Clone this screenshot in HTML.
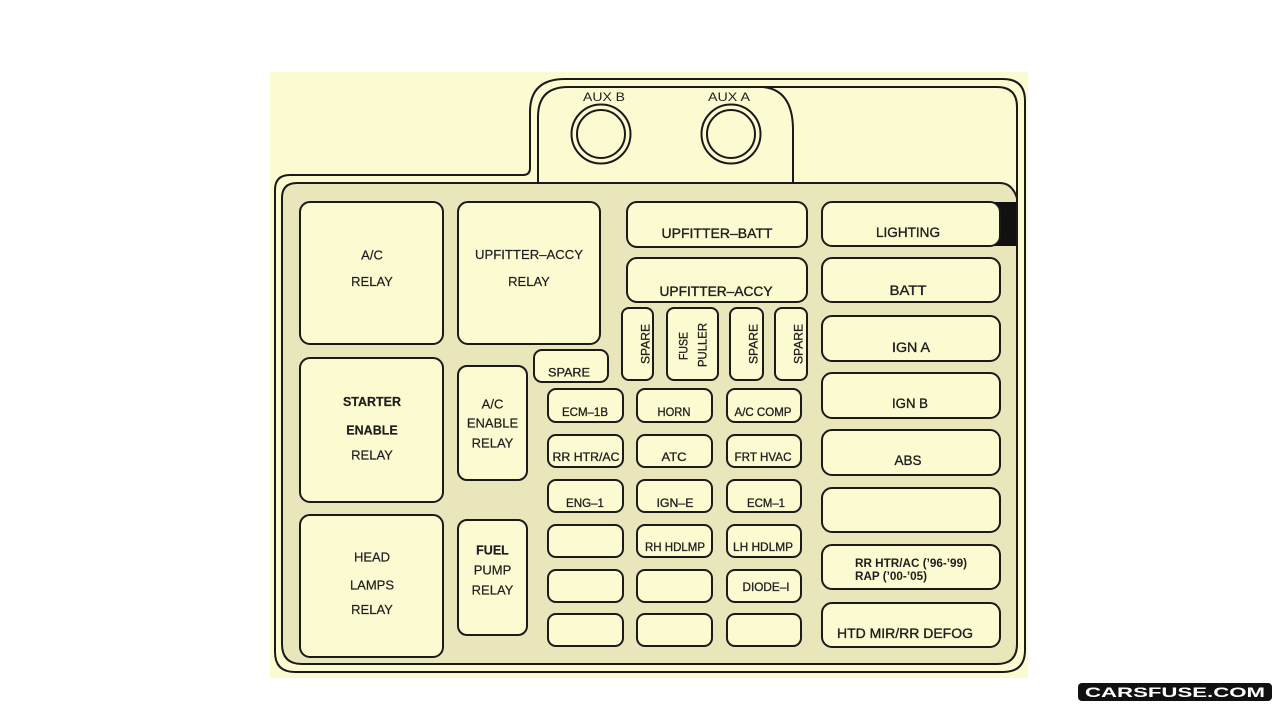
<!DOCTYPE html>
<html>
<head>
<meta charset="utf-8">
<style>
  html,body{margin:0;padding:0;background:#ffffff;}
  body{width:1280px;height:720px;overflow:hidden;}
  svg{display:block;}
  text{font-family:"Liberation Sans", Arial, sans-serif;fill:#1e1e1e;}
  .rl{font-size:13px;text-anchor:middle;stroke:#1e1e1e;stroke-width:0.2;}
  .sm{font-size:12px;text-anchor:middle;stroke:#1e1e1e;stroke-width:0.3;}
  .md{font-size:13.5px;text-anchor:middle;stroke:#1e1e1e;stroke-width:0.35;}
  .ln{fill:none;stroke:#1a1a1a;stroke-width:2;}
  .fz{fill:#fcfad0;stroke:#1a1a1a;stroke-width:2;}
</style>
</head>
<body>
<svg width="1280" height="720" viewBox="0 0 1280 720" xmlns="http://www.w3.org/2000/svg">
  <!-- yellow background -->
  <rect x="270" y="72" width="758" height="606" fill="#fcfad0"/>
  <!-- tan inner band -->
  <path d="M297 183 L1000 183 Q1012 183 1017 198 L1017 644 Q1017 664 997 664 L302 664 Q282 664 282 644 L282 198 Q282 183 297 183 Z" fill="#eae6bc"/>

  <!-- outer contour -->
  <path class="ln" d="M295 672 Q275 672 275 652 L275 190 Q275 175 290 175 L523 175 Q530 175 530 168 L530 112 Q530 79 565 79 L1003 79 Q1025 79 1025 101 L1025 650 Q1025 672 1003 672 Z"/>
  <!-- second contour -->
  <path class="ln" d="M538 183 L538 117 Q538 87 568 87 L997 87 Q1017 87 1017 107 L1017 644 Q1017 664 997 664 L302 664 Q282 664 282 644 L282 198 Q282 183 297 183 L1000 183 Q1012 183 1017 198"/>
  <!-- tab right side -->
  <path class="ln" d="M763 87 Q793 90 793 130 L793 183"/>

  <!-- AUX circles -->
  <circle cx="601" cy="134" r="29.5" class="ln"/>
  <circle cx="601" cy="134" r="24" class="ln"/>
  <circle cx="731" cy="134" r="29.5" class="ln"/>
  <circle cx="731" cy="134" r="24" class="ln"/>
  <text x="604" y="101" style="font-size:12px;text-anchor:middle;" textLength="42" lengthAdjust="spacingAndGlyphs">AUX  B</text>
  <text x="729" y="101" style="font-size:12px;text-anchor:middle;" textLength="42" lengthAdjust="spacingAndGlyphs">AUX  A</text>

  <!-- Relays left -->
  <rect class="fz" x="300" y="202" width="143" height="142" rx="10"/>
  <text class="rl" x="372" y="259.5">A/C</text>
  <text class="rl" x="372" y="286">RELAY</text>

  <rect class="fz" x="458" y="202" width="142" height="142" rx="10"/>
  <text class="rl" x="529" y="259" textLength="108" lengthAdjust="spacingAndGlyphs">UPFITTER–ACCY</text>
  <text class="rl" x="529" y="286">RELAY</text>

  <rect class="fz" x="300" y="358" width="143" height="144" rx="10"/>
  <text class="rl" x="372" y="406" style="font-weight:bold;font-size:12.5px">STARTER</text>
  <text class="rl" x="372" y="434.5" style="font-weight:bold;font-size:12.5px">ENABLE</text>
  <text class="rl" x="372" y="459.5">RELAY</text>

  <rect class="fz" x="300" y="515" width="143" height="142" rx="10"/>
  <text class="rl" x="372" y="561.5">HEAD</text>
  <text class="rl" x="372" y="589.5">LAMPS</text>
  <text class="rl" x="372" y="614">RELAY</text>

  <rect class="fz" x="458" y="366" width="69" height="114" rx="9"/>
  <text class="rl" x="492.5" y="408.5">A/C</text>
  <text class="rl" x="492.5" y="427.5">ENABLE</text>
  <text class="rl" x="492.5" y="447.5">RELAY</text>

  <rect class="fz" x="458" y="520" width="69" height="115" rx="9"/>
  <text class="rl" x="492.5" y="554.5" style="font-weight:bold;font-size:12.5px">FUEL</text>
  <text class="rl" x="492.5" y="574.5">PUMP</text>
  <text class="rl" x="492.5" y="594.5">RELAY</text>

  <!-- SPARE horizontal -->
  <rect class="fz" x="534" y="350" width="74" height="32" rx="8"/>
  <text class="sm" x="569" y="376.5" textLength="42" lengthAdjust="spacingAndGlyphs">SPARE</text>

  <!-- Vertical fuses -->
  <rect class="fz" x="622" y="308" width="31" height="72" rx="7"/>
  <rect class="fz" x="667" y="308" width="51" height="72" rx="7"/>
  <rect class="fz" x="730" y="308" width="33" height="72" rx="7"/>
  <rect class="fz" x="775" y="308" width="32" height="72" rx="7"/>
  <text class="sm" transform="translate(649.5,344) rotate(-90)" textLength="40" lengthAdjust="spacingAndGlyphs">SPARE</text>
  <text class="sm" transform="translate(687.5,346) rotate(-90)" textLength="28" lengthAdjust="spacingAndGlyphs">FUSE</text>
  <text class="sm" transform="translate(706.5,345) rotate(-90)" textLength="44" lengthAdjust="spacingAndGlyphs">PULLER</text>
  <text class="sm" transform="translate(757.5,344) rotate(-90)" textLength="40" lengthAdjust="spacingAndGlyphs">SPARE</text>
  <text class="sm" transform="translate(802.5,344) rotate(-90)" textLength="40" lengthAdjust="spacingAndGlyphs">SPARE</text>

  <!-- Upfitter wide fuses -->
  <rect class="fz" x="627" y="202" width="180" height="45" rx="10"/>
  <text class="md" x="717" y="238" textLength="111" lengthAdjust="spacingAndGlyphs">UPFITTER–BATT</text>
  <rect class="fz" x="627" y="258" width="180" height="44" rx="10"/>
  <text class="md" x="716" y="296" textLength="113" lengthAdjust="spacingAndGlyphs">UPFITTER–ACCY</text>

  <!-- Small fuses grid -->
  <g>
    <rect class="fz" x="548" y="389" width="75" height="33" rx="8"/>
    <rect class="fz" x="637" y="389" width="75" height="33" rx="8"/>
    <rect class="fz" x="727" y="389" width="74" height="33" rx="8"/>
    <rect class="fz" x="548" y="435" width="75" height="32" rx="8"/>
    <rect class="fz" x="637" y="435" width="75" height="32" rx="8"/>
    <rect class="fz" x="727" y="435" width="74" height="32" rx="8"/>
    <rect class="fz" x="548" y="480" width="75" height="32" rx="8"/>
    <rect class="fz" x="637" y="480" width="75" height="32" rx="8"/>
    <rect class="fz" x="727" y="480" width="74" height="32" rx="8"/>
    <rect class="fz" x="548" y="525" width="75" height="32" rx="8"/>
    <rect class="fz" x="637" y="525" width="75" height="32" rx="8"/>
    <rect class="fz" x="727" y="525" width="74" height="32" rx="8"/>
    <rect class="fz" x="548" y="570" width="75" height="32" rx="8"/>
    <rect class="fz" x="637" y="570" width="75" height="32" rx="8"/>
    <rect class="fz" x="727" y="570" width="74" height="32" rx="8"/>
    <rect class="fz" x="548" y="614" width="75" height="32" rx="8"/>
    <rect class="fz" x="637" y="614" width="75" height="32" rx="8"/>
    <rect class="fz" x="727" y="614" width="74" height="32" rx="8"/>
  </g>
  <text class="sm" x="585" y="416" textLength="46" lengthAdjust="spacingAndGlyphs">ECM–1B</text>
  <text class="sm" x="674" y="416" textLength="33" lengthAdjust="spacingAndGlyphs">HORN</text>
  <text class="sm" x="763" y="416" textLength="57" lengthAdjust="spacingAndGlyphs">A/C COMP</text>
  <text class="sm" x="586" y="461" textLength="67" lengthAdjust="spacingAndGlyphs">RR HTR/AC</text>
  <text class="sm" x="674" y="461" textLength="25" lengthAdjust="spacingAndGlyphs">ATC</text>
  <text class="sm" x="763" y="461" textLength="57" lengthAdjust="spacingAndGlyphs">FRT HVAC</text>
  <text class="sm" x="585" y="507" textLength="38" lengthAdjust="spacingAndGlyphs">ENG–1</text>
  <text class="sm" x="675" y="507" textLength="37" lengthAdjust="spacingAndGlyphs">IGN–E</text>
  <text class="sm" x="766" y="507" textLength="38" lengthAdjust="spacingAndGlyphs">ECM–1</text>
  <text class="sm" x="675" y="551" textLength="60" lengthAdjust="spacingAndGlyphs">RH HDLMP</text>
  <text class="sm" x="763" y="551" textLength="60" lengthAdjust="spacingAndGlyphs">LH HDLMP</text>
  <text class="sm" x="766" y="591" textLength="47" lengthAdjust="spacingAndGlyphs">DIODE–I</text>

  <!-- Right column -->
  <rect x="994" y="202" width="22" height="44" fill="#111"/>
  <rect class="fz" x="822" y="202" width="178" height="44" rx="10"/>
  <text class="md" x="908" y="237" textLength="64" lengthAdjust="spacingAndGlyphs">LIGHTING</text>
  <rect class="fz" x="822" y="258" width="178" height="44" rx="10"/>
  <text class="md" x="908" y="295" textLength="37" lengthAdjust="spacingAndGlyphs">BATT</text>
  <rect class="fz" x="822" y="316" width="178" height="45" rx="10"/>
  <text class="md" x="911" y="352" textLength="38" lengthAdjust="spacingAndGlyphs">IGN A</text>
  <rect class="fz" x="822" y="373" width="178" height="45" rx="10"/>
  <text class="md" x="910" y="408" textLength="36" lengthAdjust="spacingAndGlyphs">IGN B</text>
  <rect class="fz" x="822" y="430" width="178" height="45" rx="10"/>
  <text class="md" x="908" y="465" textLength="27" lengthAdjust="spacingAndGlyphs">ABS</text>
  <rect class="fz" x="822" y="488" width="178" height="44" rx="10"/>
  <rect class="fz" x="822" y="545" width="178" height="44" rx="10"/>
  <text x="855" y="567" style="font-size:11.5px;font-weight:bold;" textLength="112" lengthAdjust="spacingAndGlyphs">RR HTR/AC (’96-’99)</text>
  <text x="855" y="580" style="font-size:11.5px;font-weight:bold;" textLength="72" lengthAdjust="spacingAndGlyphs">RAP (’00-’05)</text>
  <rect class="fz" x="822" y="603" width="178" height="44" rx="10"/>
  <text class="md" x="905" y="638" textLength="136" lengthAdjust="spacingAndGlyphs">HTD MIR/RR DEFOG</text>

  <!-- watermark -->
  <rect x="1078" y="683" width="194" height="18" rx="4" fill="#111"/>
  <text x="1085" y="697" style="font-size:14px;font-weight:bold;fill:#ffffff;" textLength="180" lengthAdjust="spacingAndGlyphs">CARSFUSE.COM</text>
</svg>
</body>
</html>
